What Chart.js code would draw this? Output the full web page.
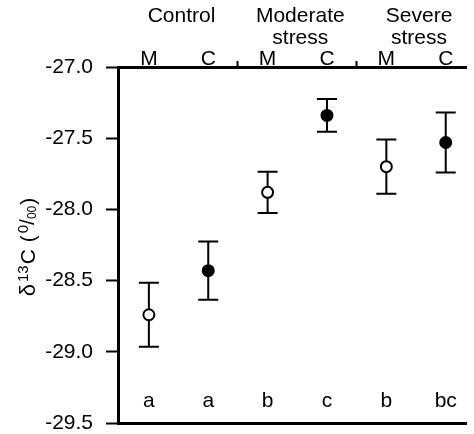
<!DOCTYPE html>
<html>
<head>
<meta charset="utf-8">
<script src="https://cdn.jsdelivr.net/npm/chart.js@4"></script>
<style>
  body { margin: 0; background: #fff; }
  #wrap { width: 474px; height: 434px; }
</style>
</head>
<body>
<div id="wrap"><canvas id="chart" width="474" height="434"></canvas></div>
<script>
// Data
const categories = ['M', 'C', 'M', 'C', 'M', 'C'];
const groupLabels = [['Control'], ['Moderate', 'stress'], ['Severe', 'stress']];
const meanM = [-28.74, -27.88, -27.70];
const errM = [0.225, 0.145, 0.19];
const meanC = [-28.43, -27.34, -27.53];
const errC = [0.205, 0.115, 0.21];
const letters = ['a', 'a', 'b', 'c', 'b', 'bc'];
const yTicks = [-29.5, -29.0, -28.5, -28.0, -27.5, -27.0];

const FONT = '"Liberation Sans", Arial, sans-serif';
const LETTER_Y = -29.39;

const pointsM = meanM.map((v, i) => ({ x: 2 * i, y: v, err: errM[i] }));
const pointsC = meanC.map((v, i) => ({ x: 2 * i + 1, y: v, err: errC[i] }));

function noPad(s) {
    s.paddingTop = 0;
    s.paddingBottom = 0;
    s.paddingLeft = 0;
    s.paddingRight = 0;
}

// error bars, letters, group titles, y title
const extras = {
    id: 'extras',
    beforeDatasetsDraw(chart) {
        const ctx = chart.ctx;
        const xs = chart.scales.x, ys = chart.scales.y;
        ctx.save();
        ctx.strokeStyle = '#000';
        ctx.lineWidth = 2;
        chart.data.datasets.forEach(ds => {
            ds.data.forEach(p => {
                const px = xs.getPixelForValue(p.x);
                const top = ys.getPixelForValue(p.y + p.err);
                const bot = ys.getPixelForValue(p.y - p.err);
                ctx.beginPath();
                ctx.moveTo(px, top); ctx.lineTo(px, bot);
                ctx.moveTo(px - 10, top); ctx.lineTo(px + 10, top);
                ctx.moveTo(px - 10, bot); ctx.lineTo(px + 10, bot);
                ctx.stroke();
            });
        });
        ctx.restore();
    },
    afterDraw(chart) {
        const ctx = chart.ctx;
        const xs = chart.scales.x, ys = chart.scales.y;
        ctx.save();
        ctx.fillStyle = '#000';
        ctx.font = '21px ' + FONT;
        ctx.textAlign = 'center';
        ctx.textBaseline = 'alphabetic';

        // significance letters
        letters.forEach((l, i) => {
            ctx.fillText(l, xs.getPixelForValue(i), ys.getPixelForValue(LETTER_Y));
        });

        // treatment group titles
        groupLabels.forEach((lines, g) => {
            const cx = (xs.getPixelForValue(2 * g) + xs.getPixelForValue(2 * g + 1)) / 2 + 3;
            lines.forEach((t, k) => ctx.fillText(t, cx, 22 + k * 21.5));
        });

        // y axis title: δ13C (0/00)
        const parts = [
            { t: 'δ', s: 22, dy: 0, gap: 2 },
            { t: '13', s: 15, dy: -7, gap: 1 },
            { t: 'C', s: 21, dy: 0, gap: 1 },
            { t: ' (', s: 21, dy: 0, gap: 2 },
            { t: '0', s: 15, dy: -7, gap: 0 },
            { t: '/', s: 21, dy: -1, gap: 0 },
            { t: '00', s: 12, dy: 1, gap: 1 },
            { t: ')', s: 21, dy: 0, gap: 0 }
        ];
        let total = 0;
        parts.forEach(p => {
            ctx.font = p.s + 'px ' + FONT;
            p.w = ctx.measureText(p.t).width;
            total += p.w + p.gap;
        });
        ctx.translate(35, 247);
        ctx.rotate(-Math.PI / 2);
        ctx.textAlign = 'left';
        let x = -total / 2;
        parts.forEach(p => {
            ctx.font = p.s + 'px ' + FONT;
            ctx.fillText(p.t, x, p.dy);
            x += p.w + p.gap;
        });
        ctx.restore();
    }
};

const ctx = document.getElementById('chart').getContext('2d');
const chart = new Chart(ctx, {
    type: 'scatter',
    data: {
        datasets: [
            {
                label: 'M',
                data: pointsM,
                pointRadius: 5.5,
                pointBorderWidth: 2,
                pointBackgroundColor: '#fff',
                pointBorderColor: '#000'
            },
            {
                label: 'C',
                data: pointsC,
                pointRadius: 5.5,
                pointBorderWidth: 2,
                pointBackgroundColor: '#000',
                pointBorderColor: '#000'
            }
        ]
    },
    options: {
        responsive: false,
        animation: false,
        layout: { padding: 0 },
        plugins: {
            legend: { display: false },
            tooltip: { enabled: false }
        },
        scales: {
            x: {
                type: 'linear',
                position: 'bottom',
                min: -0.52,
                max: 5.35,
                border: { color: '#000', width: 3 },
                grid: { display: false, drawTicks: false },
                ticks: { display: false },
                afterFit: s => { s.height = 11; noPad(s); }
            },
            x2: {
                type: 'linear',
                position: 'top',
                min: -0.52,
                max: 5.35,
                border: { color: '#000', width: 3 },
                afterBuildTicks: s => {
                    s.ticks = [0, 1, 1.5, 2, 3, 3.5, 4, 5].map(v => ({ value: v }));
                },
                grid: {
                    drawOnChartArea: false,
                    tickLength: 6,
                    tickWidth: 2,
                    tickColor: c => Number.isInteger(c.tick.value) ? 'rgba(0,0,0,0)' : '#000'
                },
                ticks: {
                    color: '#000',
                    font: { family: FONT, size: 21 },
                    padding: -11,
                    maxRotation: 0,
                    autoSkip: false,
                    callback: v => Number.isInteger(v) ? categories[v] : ''
                },
                afterFit: s => { s.height = 67; noPad(s); }
            },
            y: {
                min: -29.5,
                max: -27.0,
                border: { color: '#000', width: 3 },
                afterBuildTicks: s => {
                    s.ticks = yTicks.map(v => ({ value: v }));
                },
                grid: {
                    drawOnChartArea: false,
                    tickLength: 12,
                    tickWidth: 2,
                    tickColor: '#000'
                },
                ticks: {
                    color: '#000',
                    font: { family: FONT, size: 21 },
                    padding: 13,
                    callback: v => v.toFixed(1)
                },
                afterFit: s => { s.width = 118; noPad(s); }
            }
        }
    },
    plugins: [extras]
});
</script>
</body>
</html>
